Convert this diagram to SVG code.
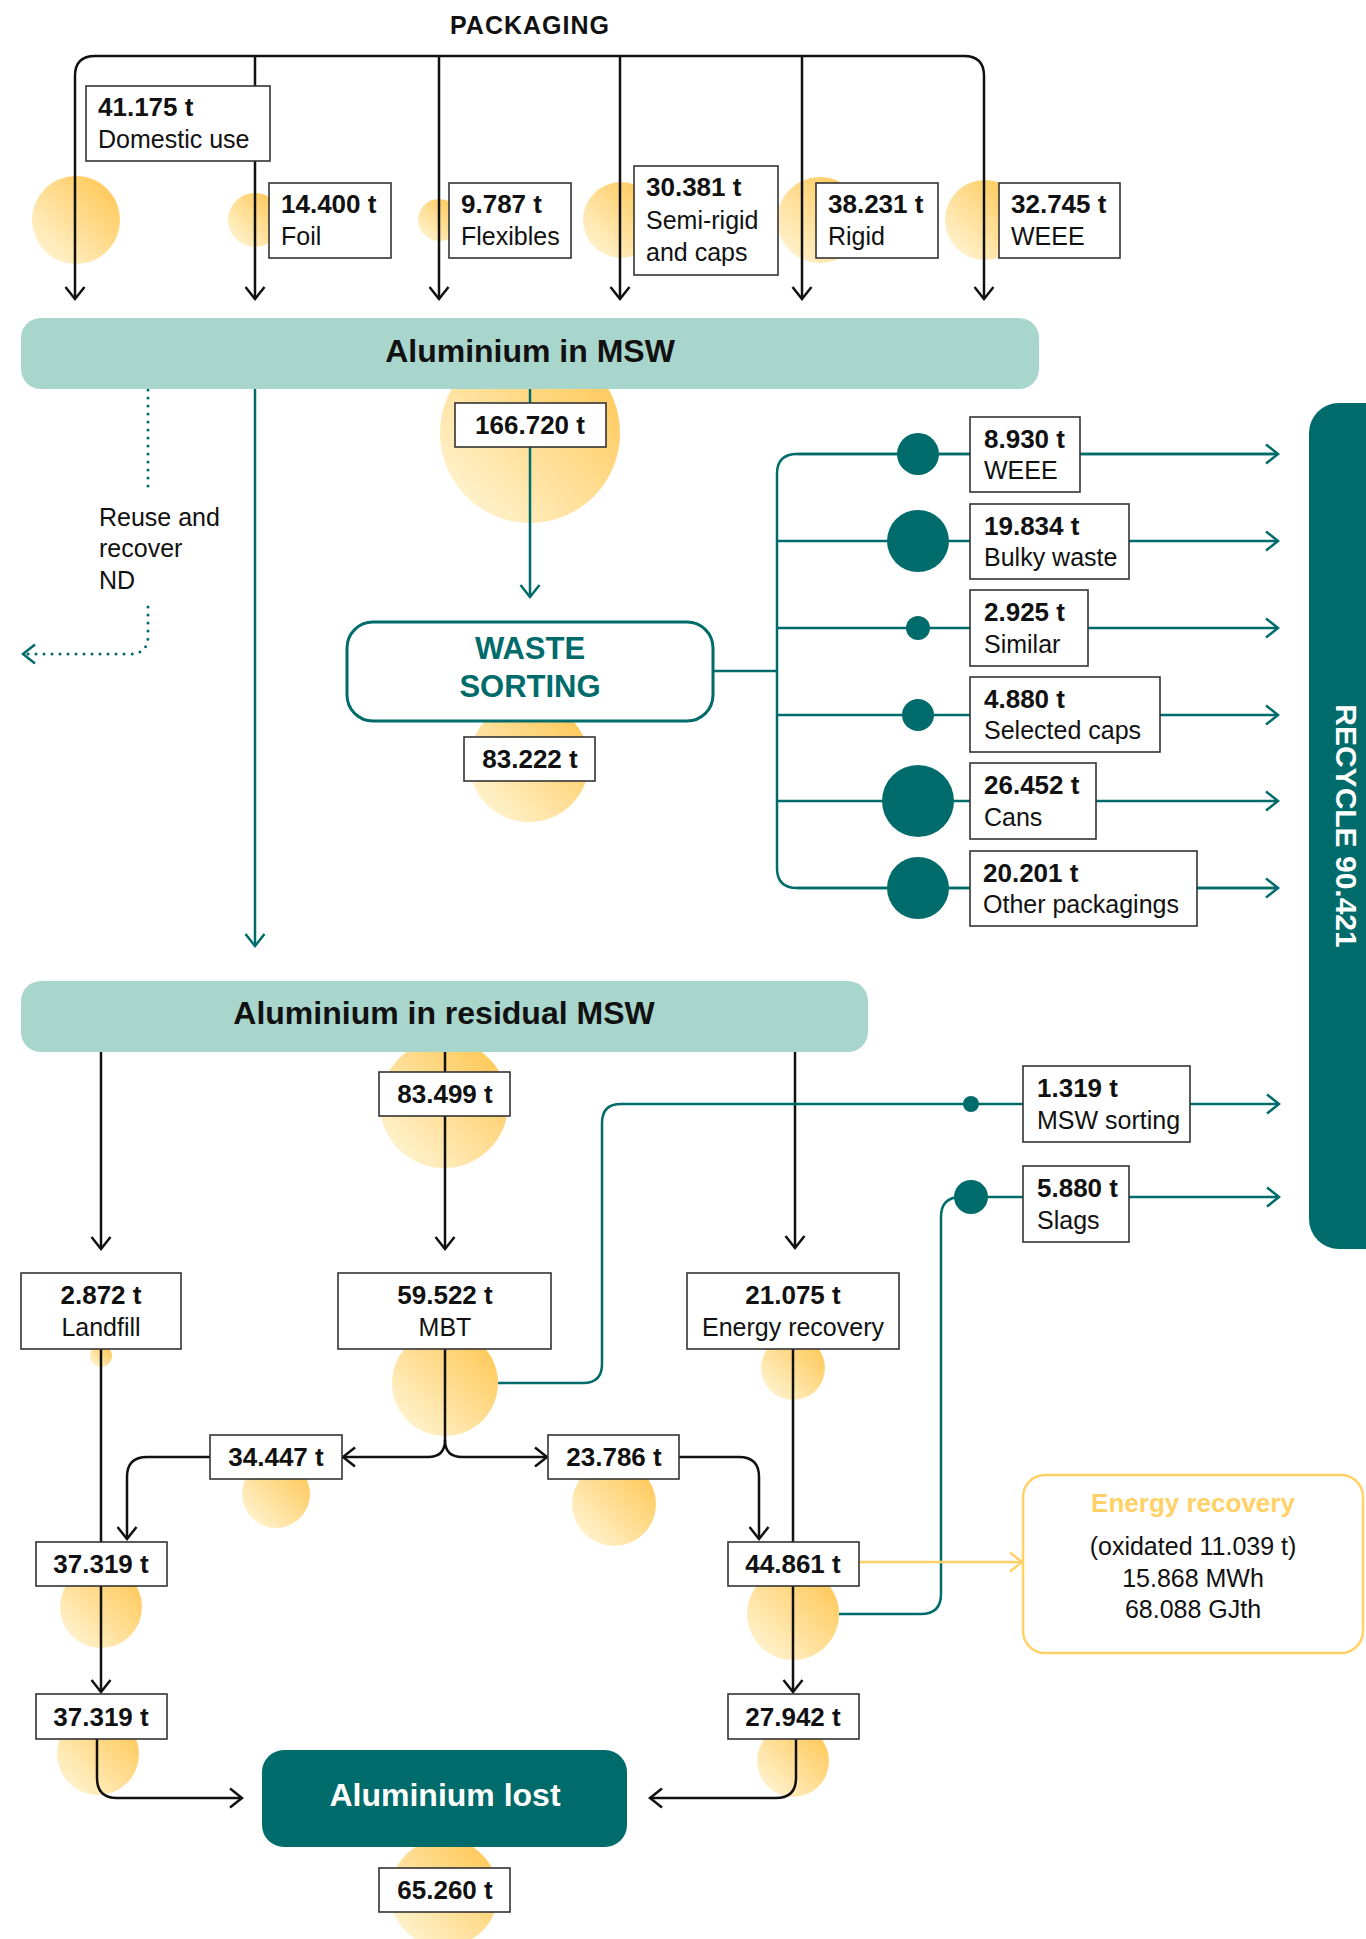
<svg xmlns="http://www.w3.org/2000/svg" width="1366" height="1939" viewBox="0 0 1366 1939">
<defs>
<linearGradient id="yg" x1="0.9" y1="0.1" x2="0.1" y2="0.9">
<stop offset="0" stop-color="#FFC857"/>
<stop offset="1" stop-color="#FFF3D0"/>
</linearGradient>
<marker id="ak" viewBox="-14 -11 16 22" refX="0" refY="0" markerWidth="16" markerHeight="22" markerUnits="userSpaceOnUse" orient="auto"><path d="M-12,-9.5 L0,0 L-12,9.5" fill="none" stroke="#111" stroke-width="2.5"/></marker>
<marker id="at" viewBox="-14 -11 16 22" refX="0" refY="0" markerWidth="16" markerHeight="22" markerUnits="userSpaceOnUse" orient="auto"><path d="M-12,-9.5 L0,0 L-12,9.5" fill="none" stroke="#006B6B" stroke-width="2.5"/></marker>
<marker id="ay" viewBox="-14 -11 16 22" refX="0" refY="0" markerWidth="16" markerHeight="22" markerUnits="userSpaceOnUse" orient="auto"><path d="M-12,-9.5 L0,0 L-12,9.5" fill="none" stroke="#FFD166" stroke-width="2.5"/></marker>
</defs>
<style>
text{font-family:"Liberation Sans",Arial,sans-serif;fill:#111}
.n{font-weight:bold;font-size:26px}
.l{font-size:25px}
.c{text-anchor:middle}
.h{font-weight:bold;font-size:32px;text-anchor:middle}
.box{fill:#fff;stroke:#333;stroke-width:1.6}
.bar{fill:#A9D6CC}
.blob{fill:url(#yg)}
.k{fill:none;stroke:#111;stroke-width:2.5}
.t{fill:none;stroke:#006B6B;stroke-width:2.5}
.dot{fill:#006B6B}
</style>

<g id="blobs">
<circle class="blob" cx="76" cy="220" r="44"/>
<circle class="blob" cx="255" cy="220" r="27"/>
<circle class="blob" cx="439" cy="220" r="21"/>
<circle class="blob" cx="621" cy="220" r="38"/>
<circle class="blob" cx="820" cy="220" r="43"/>
<circle class="blob" cx="985" cy="220" r="40"/>
<circle class="blob" cx="530" cy="433" r="90"/>
<circle class="blob" cx="529" cy="762" r="60"/>
<circle class="blob" cx="444" cy="1104" r="64"/>
<circle class="blob" cx="101" cy="1356" r="11"/>
<circle class="blob" cx="445" cy="1383" r="53"/>
<circle class="blob" cx="793" cy="1368" r="32"/>
<circle class="blob" cx="276" cy="1494" r="34"/>
<circle class="blob" cx="614" cy="1504" r="42"/>
<circle class="blob" cx="101" cy="1607" r="41"/>
<circle class="blob" cx="793" cy="1614" r="46"/>
<circle class="blob" cx="98" cy="1754" r="41"/>
<circle class="blob" cx="793" cy="1761" r="36"/>
<circle class="blob" cx="444" cy="1893" r="54"/>
</g>

<g id="recycle">
<rect x="1309" y="403" width="100" height="846" rx="30" fill="#006B6B"/>
<text transform="translate(1347 826) rotate(90)" x="0" y="11" text-anchor="middle" style="font-weight:bold;font-size:30px;fill:#fff">RECYCLE 90.421</text>
</g>

<g id="connectors">
<path class="k" d="M75,76 Q75,56 95,56 H964 Q984,56 984,76"/>
<path class="k" d="M75,76 V299" marker-end="url(#ak)"/>
<path class="k" d="M255,56 V299" marker-end="url(#ak)"/>
<path class="k" d="M439,56 V299" marker-end="url(#ak)"/>
<path class="k" d="M620,56 V299" marker-end="url(#ak)"/>
<path class="k" d="M802,56 V299" marker-end="url(#ak)"/>
<path class="k" d="M984,76 V299" marker-end="url(#ak)"/>

<path class="t" d="M255,389 V946" marker-end="url(#at)"/>
<path class="t" d="M530,389 V597" marker-end="url(#at)"/>
<path class="t" d="M148,390 V487" stroke-dasharray="0 8" stroke-linecap="round" style="stroke-width:3"/>
<path class="t" d="M148,607 V636 Q148,654 130,654 H24" stroke-dasharray="0 8" stroke-linecap="round" style="stroke-width:3"/>
<path class="t" d="M36,654 H23" marker-end="url(#at)" style="stroke-width:0.1"/>

<path class="t" d="M713,671 H777"/>
<path class="t" d="M1278,454 H797 Q777,454 777,474 V868 Q777,888 797,888 H1278"/>
<path class="t" d="M797,454 H1278" marker-end="url(#at)"/>
<path class="t" d="M777,541 H1278" marker-end="url(#at)"/>
<path class="t" d="M777,628 H1278" marker-end="url(#at)"/>
<path class="t" d="M777,715 H1278" marker-end="url(#at)"/>
<path class="t" d="M777,801 H1278" marker-end="url(#at)"/>
<path class="t" d="M797,888 H1278" marker-end="url(#at)"/>

<path class="k" d="M101,1052 V1249" marker-end="url(#ak)"/>
<path class="k" d="M445,1052 V1249" marker-end="url(#ak)"/>
<path class="k" d="M795,1052 V1248" marker-end="url(#ak)"/>

<path class="t" d="M498,1383 H583 Q602,1383 602,1364 V1123 Q602,1104 621,1104 H1279" marker-end="url(#at)"/>
<path class="t" d="M839,1614 H921 Q941,1614 941,1594 V1217 Q941,1197 961,1197 H1279" marker-end="url(#at)"/>

<path class="k" d="M101,1349 V1542"/>
<path class="k" d="M793,1349 V1542"/>
<path class="k" d="M445,1349 V1440 Q445,1457 428,1457 H343" marker-end="url(#ak)"/>
<path class="k" d="M445,1440 Q445,1457 462,1457 H547" marker-end="url(#ak)"/>
<path class="k" d="M210,1457 H147 Q127,1457 127,1477 V1539" marker-end="url(#ak)"/>
<path class="k" d="M679,1457 H739 Q759,1457 759,1477 V1539" marker-end="url(#ak)"/>
<path class="k" d="M101,1586 V1692" marker-end="url(#ak)"/>
<path class="k" d="M793,1586 V1692" marker-end="url(#ak)"/>
<path class="k" d="M97,1739 V1778 Q97,1798 117,1798 H242" marker-end="url(#ak)"/>
<path class="k" d="M796,1739 V1778 Q796,1798 776,1798 H650" marker-end="url(#ak)"/>
<path d="M859,1562 H1022" fill="none" stroke="#FFD166" stroke-width="2.5" marker-end="url(#ay)"/>
</g>

<g id="dots">
<circle class="dot" cx="918" cy="454" r="21"/>
<circle class="dot" cx="918" cy="541" r="31"/>
<circle class="dot" cx="918" cy="628" r="12"/>
<circle class="dot" cx="918" cy="715" r="16"/>
<circle class="dot" cx="918" cy="801" r="36"/>
<circle class="dot" cx="918" cy="888" r="31"/>
<circle class="dot" cx="971" cy="1104" r="8"/>
<circle class="dot" cx="971" cy="1197" r="17"/>
</g>

<text id="packaging" x="530" y="34" class="c" style="font-weight:bold;font-size:25px;letter-spacing:1px">PACKAGING</text>

<g id="domestic"><rect class="box" x="86" y="86" width="184" height="75"/><text class="n" x="98" y="116">41.175 t</text><text class="l" x="98" y="148">Domestic use</text></g>
<g id="foil"><rect class="box" x="269" y="183" width="122" height="75"/><text class="n" x="281" y="213">14.400 t</text><text class="l" x="281" y="245">Foil</text></g>
<g id="flexibles"><rect class="box" x="449" y="183" width="122" height="75"/><text class="n" x="461" y="213">9.787 t</text><text class="l" x="461" y="245">Flexibles</text></g>
<g id="semirigid"><rect class="box" x="634" y="166" width="144" height="109"/><text class="n" x="646" y="196">30.381 t</text><text class="l" x="646" y="229">Semi-rigid</text><text class="l" x="646" y="261">and caps</text></g>
<g id="rigid"><rect class="box" x="816" y="183" width="122" height="75"/><text class="n" x="828" y="213">38.231 t</text><text class="l" x="828" y="245">Rigid</text></g>
<g id="weee-pack"><rect class="box" x="999" y="183" width="121" height="75"/><text class="n" x="1011" y="213">32.745 t</text><text class="l" x="1011" y="245">WEEE</text></g>

<g id="msw"><rect class="bar" x="21" y="318" width="1018" height="71" rx="20"/><text class="h" x="530" y="362">Aluminium in MSW</text></g>

<g id="reuse"><text class="l" x="99" y="526">Reuse and</text><text class="l" x="99" y="557">recover</text><text class="l" x="99" y="589">ND</text></g>

<g id="q166"><rect class="box" x="455" y="403" width="151" height="44"/><text class="n c" x="530" y="434">166.720 t</text></g>

<g id="sorting"><rect x="347" y="622" width="366" height="99" rx="26" fill="#fff" stroke="#006B6B" stroke-width="3"/><text class="c" x="530" y="659" style="font-weight:bold;font-size:31px;fill:#006B6B">WASTE</text><text class="c" x="530" y="697" style="font-weight:bold;font-size:31px;fill:#006B6B">SORTING</text></g>
<g id="q83222"><rect class="box" x="464" y="737" width="131" height="44"/><text class="n c" x="530" y="768">83.222 t</text></g>

<g id="r-weee"><rect class="box" x="970" y="417" width="110" height="75"/><text class="n" x="984" y="448">8.930 t</text><text class="l" x="984" y="479">WEEE</text></g>
<g id="r-bulky"><rect class="box" x="970" y="504" width="159" height="75"/><text class="n" x="984" y="535">19.834 t</text><text class="l" x="984" y="566">Bulky waste</text></g>
<g id="r-similar"><rect class="box" x="970" y="590" width="118" height="76"/><text class="n" x="984" y="621">2.925 t</text><text class="l" x="984" y="653">Similar</text></g>
<g id="r-caps"><rect class="box" x="970" y="677" width="190" height="75"/><text class="n" x="984" y="708">4.880 t</text><text class="l" x="984" y="739">Selected caps</text></g>
<g id="r-cans"><rect class="box" x="970" y="763" width="126" height="76"/><text class="n" x="984" y="794">26.452 t</text><text class="l" x="984" y="826">Cans</text></g>
<g id="r-other"><rect class="box" x="970" y="851" width="227" height="75"/><text class="n" x="983" y="882">20.201 t</text><text class="l" x="983" y="913">Other packagings</text></g>

<g id="residual"><rect class="bar" x="21" y="981" width="847" height="71" rx="20"/><text class="h" x="444" y="1024">Aluminium in residual MSW</text></g>
<g id="q83499"><rect class="box" x="379" y="1072" width="131" height="44"/><text class="n c" x="445" y="1103">83.499 t</text></g>

<g id="msw-sorting"><rect class="box" x="1023" y="1066" width="167" height="76"/><text class="n" x="1037" y="1097">1.319 t</text><text class="l" x="1037" y="1129">MSW sorting</text></g>
<g id="slags"><rect class="box" x="1023" y="1166" width="106" height="76"/><text class="n" x="1037" y="1197">5.880 t</text><text class="l" x="1037" y="1229">Slags</text></g>

<g id="landfill"><rect class="box" x="21" y="1273" width="160" height="76"/><text class="n c" x="101" y="1304">2.872 t</text><text class="l c" x="101" y="1336">Landfill</text></g>
<g id="mbt"><rect class="box" x="338" y="1273" width="213" height="76"/><text class="n c" x="445" y="1304">59.522 t</text><text class="l c" x="445" y="1336">MBT</text></g>
<g id="energy"><rect class="box" x="687" y="1273" width="212" height="76"/><text class="n c" x="793" y="1304">21.075 t</text><text class="l c" x="793" y="1336">Energy recovery</text></g>

<g id="q34447"><rect class="box" x="210" y="1435" width="132" height="44"/><text class="n c" x="276" y="1466">34.447 t</text></g>
<g id="q23786"><rect class="box" x="548" y="1435" width="131" height="44"/><text class="n c" x="614" y="1466">23.786 t</text></g>
<g id="q37319a"><rect class="box" x="36" y="1542" width="131" height="44"/><text class="n c" x="101" y="1573">37.319 t</text></g>
<g id="q44861"><rect class="box" x="728" y="1542" width="131" height="44"/><text class="n c" x="793" y="1573">44.861 t</text></g>
<g id="q37319b"><rect class="box" x="36" y="1694" width="131" height="45"/><text class="n c" x="101" y="1726">37.319 t</text></g>
<g id="q27942"><rect class="box" x="728" y="1694" width="131" height="45"/><text class="n c" x="793" y="1726">27.942 t</text></g>

<g id="energy-out"><rect x="1023" y="1475" width="340" height="178" rx="22" fill="#fff" stroke="#FFD166" stroke-width="2.5"/><text class="c" x="1193" y="1512" style="font-weight:bold;font-size:26px;fill:#FFD166">Energy recovery</text><text class="l c" x="1193" y="1555">(oxidated 11.039 t)</text><text class="l c" x="1193" y="1587">15.868 MWh</text><text class="l c" x="1193" y="1618">68.088 GJth</text></g>

<g id="lost"><rect x="262" y="1750" width="365" height="97" rx="22" fill="#006B6B"/><text class="h" x="445" y="1806" style="fill:#fff">Aluminium lost</text></g>
<g id="q65260"><rect class="box" x="379" y="1868" width="131" height="44"/><text class="n c" x="445" y="1899">65.260 t</text></g>
</svg>
